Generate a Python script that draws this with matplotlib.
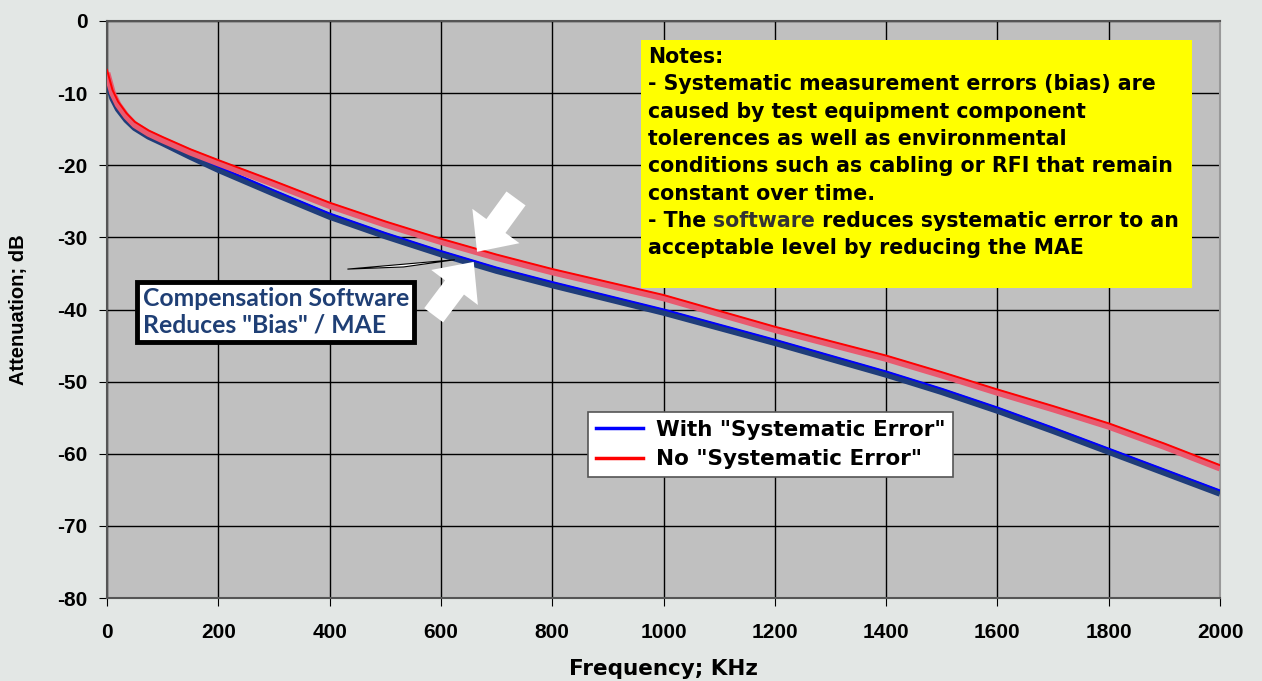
"""Attenuation vs frequency, with and without systematic error."""

import matplotlib
matplotlib.use('Agg')
import matplotlib.pyplot as plt
from matplotlib.lines import Line2D
from matplotlib.patches import Polygon
import matplotlib.transforms as mtransforms

# data
freq = [0, 5, 10, 20, 35, 50, 75, 100, 150, 200, 300, 400, 500, 600, 700,
        800, 900, 1000, 1100, 1200, 1300, 1400, 1500, 1600, 1700, 1800,
        1900, 2000]
no_err = [-7.2, -8.6, -10.0, -11.6, -13.2, -14.4, -15.6, -16.5, -18.2,
          -19.7, -22.6, -25.6, -28.2, -30.6, -32.8, -34.8, -36.6, -38.4,
          -40.6, -42.8, -44.8, -46.8, -49.1, -51.5, -53.8, -56.2, -59.0,
          -62.0]
with_err = [-8.8, -9.4, -10.7, -12.2, -13.7, -14.8, -16.0, -16.9, -18.8,
            -20.6, -23.9, -27.1, -29.8, -32.3, -34.6, -36.6, -38.5, -40.4,
            -42.5, -44.6, -46.8, -49.0, -51.4, -54.0, -56.8, -59.7, -62.6,
            -65.5]
x_ticks = list(range(0, 2001, 200))
y_ticks = list(range(-80, 1, 10))
series_labels = ['With "Systematic Error"', 'No "Systematic Error"']
notes_lines = ['Notes:',
               '- Systematic measurement errors (bias) are',
               'caused by test equipment component',
               'tolerences as well as environmental',
               'conditions such as cabling or RFI that remain',
               'constant over time.']
callout_text = 'Compensation Software\nReduces "Bias" / MAE'

plt.rcParams['axes.unicode_minus'] = False

W, H = 1262, 681
fig = plt.figure(figsize=(W / 100, H / 100), dpi=100, facecolor='#e3e7e5')
ax = fig.add_axes([107 / W, 1 - 598 / H, (1220 - 107) / W, (598 - 21) / H])
ax.set_facecolor('#c0c0c0')

# thin line slightly above the thick one, as in the original
up = mtransforms.offset_copy(ax.transData, fig=fig, x=0, y=3, units='dots')
ax.plot(freq, with_err, color='#1f3d7a', lw=4.8, solid_capstyle='butt',
        zorder=3)
ax.plot(freq, with_err, color='#0000ff', lw=1.4, transform=up, zorder=3)
ax.plot(freq, no_err, color='#e85a70', lw=4.8, solid_capstyle='butt',
        zorder=4)
ax.plot(freq, no_err, color='#ff0000', lw=1.4, transform=up, zorder=4)

ax.set_xlim(0, 2000)
ax.set_ylim(-80, 0)
ax.set_xticks(x_ticks)
ax.set_yticks(y_ticks)
ax.grid(True, color='black', lw=1)
ax.set_axisbelow(True)
for side, spine in ax.spines.items():
    spine.set_color('#555555')
    spine.set_linewidth(1.5)
ax.spines['right'].set_color('#999999')
ax.tick_params(axis='x', length=6, pad=12, direction='out')
ax.tick_params(axis='y', length=6, pad=8, direction='out')
for lab in ax.get_xticklabels() + ax.get_yticklabels():
    lab.set_fontweight('bold')
    lab.set_family('Liberation Sans')
    lab.set_fontsize(15)

ax.set_xlabel('Frequency; KHz', fontsize=15.5, fontweight='bold')
ax.xaxis.set_label_coords(0.5, -0.106)
ax.set_ylabel('Attenuation; dB', fontsize=14.5, fontweight='bold',
              family='Liberation Sans')
ax.yaxis.set_label_coords(-0.071, 0.5)

# legend
handles = [Line2D([], [], color='#0000ff', lw=2.5),
           Line2D([], [], color='#ff0000', lw=2.5)]
leg = ax.legend(handles, series_labels, loc='upper left',
                bbox_to_anchor=((588 - 107) / 1113, 1 - (412 - 21) / 577),
                prop={'weight': 'bold', 'size': 15.5}, fancybox=False,
                framealpha=1, edgecolor='#555555', handlelength=2.2,
                borderpad=0.35, labelspacing=0.45, handletextpad=0.6,
                borderaxespad=0)
leg.get_frame().set_linewidth(1.2)
leg.set_zorder(6)

# yellow notes box
fs = 14.8
fig.patches.append(plt.Rectangle((641 / W, 1 - 288 / H), 551 / W, 248 / H,
                                 transform=fig.transFigure,
                                 facecolor='#ffff00', edgecolor='none',
                                 zorder=5))
for i, line in enumerate(notes_lines):
    fig.text(648 / W, 1 - (57 + 27.3 * i) / H, line, fontsize=fs,
             fontweight='bold', va='center', zorder=6)
t1 = fig.text(648 / W, 1 - (57 + 27.3 * 6) / H, '- The ', fontsize=fs,
              fontweight='bold', va='center', zorder=6)
t2 = fig.text(0, 0, 'software', fontsize=fs, fontweight='bold',
              color='#333333', zorder=6, va='center')
fig.canvas.draw()
t2.set_position((t1.get_window_extent().x1 / W, 1 - (57 + 27.3 * 6) / H))
fig.text(t2.get_window_extent().x1 / W, 1 - (57 + 27.3 * 6) / H,
         ' reduces systematic error to an', fontsize=fs,
         fontweight='bold', va='center', zorder=6)
fig.text(648 / W, 1 - (57 + 27.3 * 7) / H,
         'acceptable level by reducing the MAE', fontsize=fs,
         fontweight='bold', va='center', zorder=6)

# callout wedge, box and white arrows
ax.add_patch(Polygon([(432, -34.4), (625, -33.1), (533, -34.1)],
                     closed=True, facecolor='white', edgecolor='black',
                     lw=0.8, zorder=6))
ax.text(64, -40.3, callout_text,
        family='Lato', fontweight='bold', fontsize=17.8, color='#1f3f75',
        va='center', ha='left', linespacing=1.15, zorder=7,
        bbox=dict(boxstyle='square,pad=0.22', facecolor='white',
                  edgecolor='black', lw=3.5))
arrow = dict(width=17, headwidth=42, headlength=23, facecolor='white',
             edgecolor='none')
ax.annotate('', xy=(665, -32.0), xytext=(735, -24.6), arrowprops=arrow,
            zorder=8)
ax.annotate('', xy=(659, -33.4), xytext=(587, -40.8), arrowprops=arrow,
            zorder=8)

fig.savefig('out.png', dpi=100, facecolor=fig.get_facecolor())
